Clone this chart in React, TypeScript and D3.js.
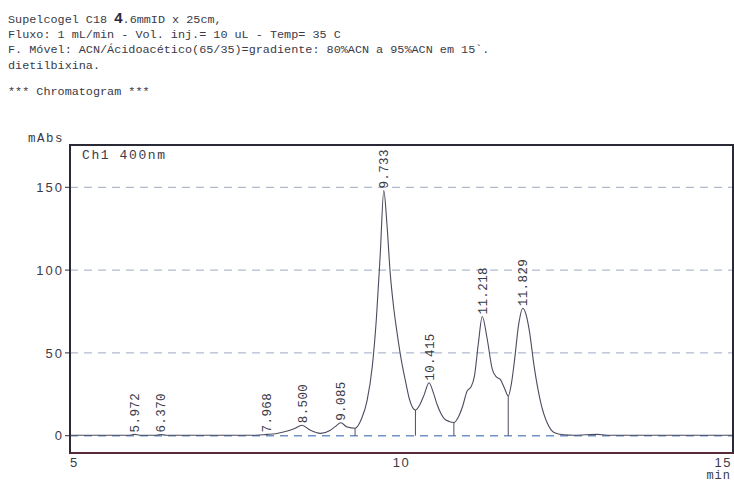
import React from "react";
import * as d3 from "d3";

const headerLines = [
  "Fluxo: 1 mL/min - Vol. inj.= 10 uL - Temp= 35 C",
  "F. Móvel: ACN/Ácidoacético(65/35)=gradiente: 80%ACN a 95%ACN em 15`.",
  "dietilbixina.",
];
const titleLine = "*** Chromatogram ***";

const times = [
  5.0, 5.9, 5.972, 6.05, 6.3, 6.37, 6.45, 7.8, 7.968, 8.1, 8.25, 8.38, 8.5, 8.62, 8.78,
  8.92, 9.0, 9.085, 9.18, 9.3, 9.4, 9.48, 9.56, 9.62, 9.68, 9.733, 9.78, 9.83, 9.88,
  9.93, 10.0, 10.06, 10.12, 10.21, 10.28, 10.34, 10.415, 10.48, 10.54, 10.64, 10.72,
  10.79, 10.86, 10.92, 10.99, 11.05, 11.1, 11.16, 11.218, 11.29, 11.37, 11.43, 11.49,
  11.55, 11.61, 11.66, 11.7, 11.77, 11.829, 11.88, 11.93, 12.0, 12.1, 12.2, 12.3,
  12.45, 12.6, 12.96, 13.1, 15.0,
];
const absorbance = [
  0.3, 0.3, 0.8, 0.3, 0.3, 0.7, 0.3, 0.3, 0.8, 1.2, 2.5, 4.2, 6.3, 3.4, 1.4,
  3.2, 5.5, 7.8, 5.2, 4.5, 10.5, 21, 42, 70, 110, 148, 128, 98, 78,
  63, 45, 33, 22, 15.5, 19, 24.5, 32, 26, 18.5, 10.5, 8.6,
  8, 11.5, 17.5, 27, 29.5, 36, 56, 72, 59, 40, 35.5, 34,
  29, 24, 32, 44, 68, 77, 73, 63, 42, 20, 7.5, 2,
  0.6, 0.3, 0.8, 0.3, 0.3,
];

const peakTimes = [5.972, 6.37, 7.968, 8.5, 9.085, 9.733, 10.415, 11.218, 11.829];
const peakLabels = ["5.972", "6.370", "7.968", "8.500", "9.085", "9.733", "10.415", "11.218", "11.829"];
const peakHeights = [0.8, 0.7, 0.8, 6.3, 7.8, 148, 32, 72, 77];

const dropTimes = [9.3, 10.21, 10.79, 11.61];
const dropHeights = [4.5, 15.5, 8, 24];

const yTicks = [0, 50, 100, 150];
const xTicks = [5, 10, 15];

const W = 734;
const H = 482;
const left = 70;
const right = 733;
const top = 145;
const bottom = 453;

const MONO = "'Liberation Mono', 'DejaVu Sans Mono', monospace";
const SANS = "'Liberation Sans', Arial, sans-serif";
const TEXT = "#3a3a48";

export default function App() {
  const x = d3.scaleLinear().domain([5, 15]).range([left, right]);
  const y = d3.scaleLinear().domain([0, 150]).range([435.7, 187.3]);

  const pts: [number, number][] = times.map((t, i) => [t, absorbance[i]]);
  const line = d3
    .line<[number, number]>()
    .x((d) => x(d[0]))
    .y((d) => y(d[1]))
    .curve(d3.curveMonotoneX);

  return (
    <svg
      width={W}
      height={H}
      style={{ position: "absolute", left: 0, top: 0, background: "#fff" }}
    >
      <rect x={0} y={0} width={W} height={H} fill="#ffffff" />
      <g fontFamily={MONO} fontSize={11.8} fill={TEXT}>
        <text x={8} y={23}>
          <tspan>Supelcogel C18 </tspan>
          <tspan fontFamily={SANS} fontWeight="bold" fontSize={15} fill="#2a2a38">4</tspan>
          <tspan>.6mmID x 25cm,</tspan>
        </text>
        {headerLines.map((s, i) => (
          <text key={i} x={8} y={38 + i * 15.3} xmlSpace="preserve">
            {s}
          </text>
        ))}
        <text x={8} y={95}>{titleLine}</text>
      </g>

      {/* gridlines */}
      {yTicks.map((v) => (
        <line
          key={v}
          x1={left}
          x2={right}
          y1={y(v)}
          y2={y(v)}
          stroke={v === 0 ? "#6f93c6" : "#9ea8c4"}
          strokeWidth={v === 0 ? 1.4 : 1}
          strokeDasharray="8,6"
        />
      ))}

      {/* y ticks & labels */}
      {yTicks.map((v) => (
        <g key={"t" + v}>
          <line x1={left - 5} x2={left} y1={y(v)} y2={y(v)} stroke="#2d2d3a" strokeWidth={1} />
          <text
            x={left - 6}
            y={y(v)}
            dy="0.36em"
            textAnchor="end"
            fontFamily={SANS}
            fontSize={13}
            letterSpacing={2}
            fill={TEXT}
          >
            {v}
          </text>
        </g>
      ))}

      <text x={28} y={142} fontFamily={MONO} fontSize={12.5} letterSpacing={1.5} fill={TEXT}>
        mAbs
      </text>
      <text x={82} y={159} fontFamily={MONO} fontSize={13} letterSpacing={1.6} fill={TEXT}>
        Ch1 400nm
      </text>

      {/* drop lines */}
      {dropTimes.map((t, i) => (
        <line
          key={"d" + i}
          x1={x(t)}
          x2={x(t)}
          y1={y(dropHeights[i])}
          y2={y(0)}
          stroke="#4c4c60"
          strokeWidth={1}
        />
      ))}

      {/* chromatogram */}
      <path d={line(pts) || ""} fill="none" stroke="#4c4c60" strokeWidth={1.1} />

      {/* peak labels */}
      {peakTimes.map((t, i) => {
        const px = x(t);
        const py = y(peakHeights[i]) - 2;
        return (
          <text
            key={"p" + i}
            transform={`translate(${px},${py}) rotate(-90)`}
            dy="0.36em"
            fontFamily={MONO}
            fontSize={12.5}
            letterSpacing={0.4}
            fill={TEXT}
          >
            {peakLabels[i]}
          </text>
        );
      })}

      {/* frame */}
      <rect
        x={left}
        y={top}
        width={right - left}
        height={bottom - top}
        fill="none"
        stroke="#2a2a36"
        strokeWidth={2}
      />
      <line x1={left} x2={right} y1={bottom} y2={bottom} stroke="#6a2c3c" strokeWidth={1.6} />

      {/* x tick labels */}
      {xTicks.map((v, i) => (
        <text
          key={"x" + v}
          x={i === xTicks.length - 1 ? x(v) - 1 : x(v)}
          y={467}
          textAnchor={i === 0 ? "start" : i === xTicks.length - 1 ? "end" : "middle"}
          fontFamily={SANS}
          fontSize={13}
          letterSpacing={1.5}
          fill={TEXT}
        >
          {v}
        </text>
      ))}
      <text x={731} y={479} textAnchor="end" fontFamily={MONO} fontSize={12} letterSpacing={1} fill={TEXT}>
        min
      </text>
    </svg>
  );
}
